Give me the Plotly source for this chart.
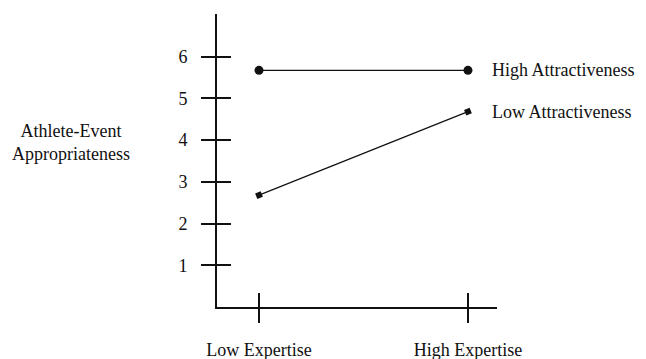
import plotly.graph_objects as go

categories = ["Low Expertise", "High Expertise"]
cat_pos = [0, 1]
high_attr = [5.67, 5.67]
low_attr = [2.68, 4.68]
series_names = ["High Attractiveness", "Low Attractiveness"]
y_ticks = [1, 2, 3, 4, 5, 6]

FONT = dict(family="Liberation Serif, Times New Roman, serif", size=18, color="#111")

fig = go.Figure()
fig.add_trace(go.Scatter(x=cat_pos, y=high_attr, mode="lines+markers",
                         line=dict(color="#111", width=1.2),
                         marker=dict(symbol="circle", size=9, color="#111"),
                         name=series_names[0], showlegend=False))
fig.add_trace(go.Scatter(x=cat_pos, y=low_attr, mode="lines+markers",
                         line=dict(color="#111", width=1.2),
                         marker=dict(symbol="square", size=6, color="#111", angle=-22),
                         name=series_names[1], showlegend=False))
# invisible trace for overlay axes
fig.add_trace(go.Scatter(x=cat_pos, y=high_attr, xaxis="x2", yaxis="y2",
                         mode="markers", marker=dict(opacity=0), hoverinfo="skip",
                         showlegend=False))

xr = [-0.201, 1.139]
yr = [0, 7.02]
fig.update_layout(
    width=646, height=359,
    margin=dict(l=217, r=149, t=14, b=52, autoexpand=False),
    paper_bgcolor="white", plot_bgcolor="white",
    font=FONT,
    xaxis=dict(range=xr, tickvals=cat_pos, ticktext=categories, automargin=False,
               showline=True, linecolor="#111", linewidth=2,
               ticks="outside", ticklen=14, tickwidth=2, tickcolor="#111",
               showgrid=False, zeroline=False, ticklabelstandoff=11),
    yaxis=dict(range=yr, tickvals=y_ticks, automargin=False,
               showline=True, linecolor="#111", linewidth=2,
               ticks="outside", ticklen=14, tickwidth=2, tickcolor="#111",
               showgrid=False, zeroline=False, ticklabelstandoff=10),
    xaxis2=dict(range=xr, overlaying="x", tickvals=cat_pos, showticklabels=False,
                ticks="inside", ticklen=14, tickwidth=2, tickcolor="#111", automargin=False,
                showgrid=False, zeroline=False, showline=False, side="bottom"),
    yaxis2=dict(range=yr, overlaying="y", tickvals=y_ticks, showticklabels=False,
                ticks="inside", ticklen=14, tickwidth=2, tickcolor="#111", automargin=False,
                showgrid=False, zeroline=False, showline=False, side="left"),
)

fig.add_annotation(text="Athlete-Event<br>Appropriateness", xref="paper", yref="paper",
                   x=-0.522, y=0.56, xanchor="center", yanchor="middle",
                   showarrow=False, font=FONT, align="center")
for name, vals in zip(series_names, [high_attr, low_attr]):
    fig.add_annotation(text=name, x=cat_pos[-1], y=vals[-1], xanchor="left",
                       yanchor="middle", xshift=22, showarrow=False, font=FONT)

fig.write_html("out.html", config={"displayModeBar": False},
               post_script="document.body.style.margin='0';document.body.style.padding='0';")
